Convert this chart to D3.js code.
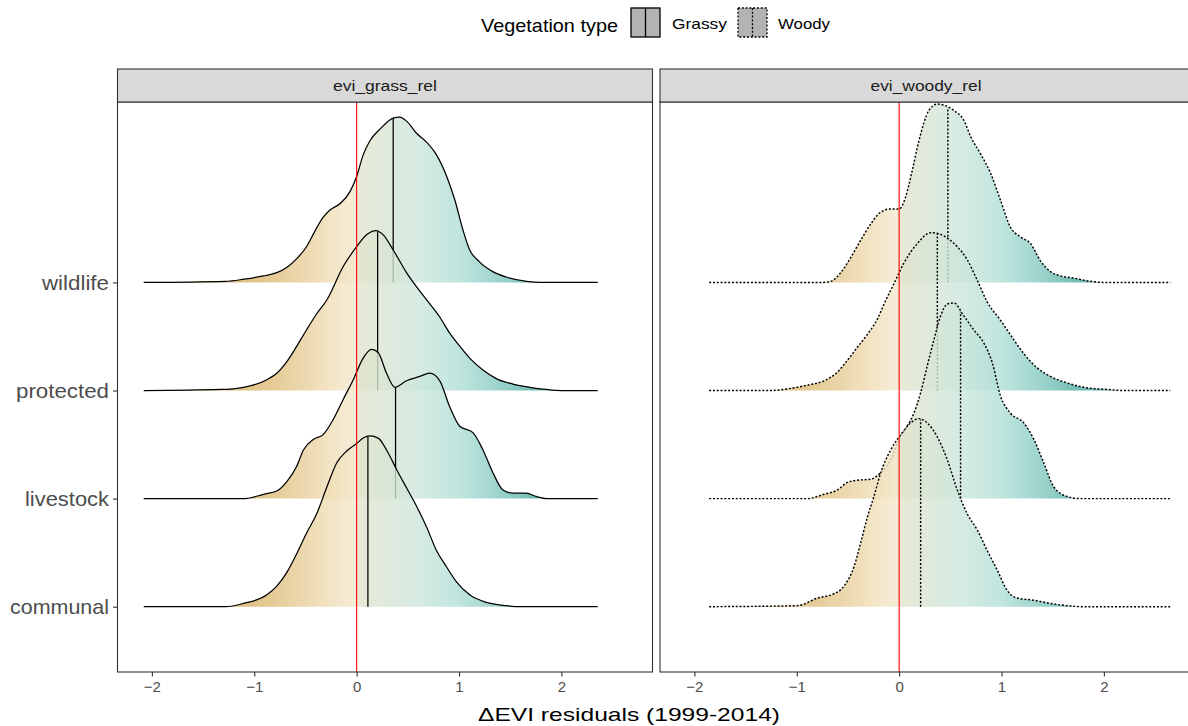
<!DOCTYPE html>
<html>
<head>
<meta charset="utf-8">
<script src="https://cdn.jsdelivr.net/npm/d3@7"></script>
<style>
  body { margin: 0; background: #fff; }
  text { font-family: "Liberation Sans", Arial, sans-serif; }
</style>
</head>
<body>
<div class="canvas"></div>
<script>
// ---- data ----
const categories = ["communal", "livestock", "protected", "wildlife"];
const panels = ["evi_grass_rel", "evi_woody_rel"];
const vegTypes = ["Grassy", "Woody"];
const xTicks = [-2, -1, 0, 1, 2];

// ridge heights [x, height] in units of one category step
const grassCommunal = [[-2.08,0],[-1.28,0],[-1.105,0.03],[-0.877,0.11],[-0.78,0.19],[-0.68,0.32],[-0.585,0.49],[-0.49,0.68],[-0.39,0.86],[-0.29,1.11],[-0.195,1.33],[-0.097,1.44],[0,1.51],[0.064,1.56],[0.13,1.58],[0.211,1.56],[0.292,1.45],[0.39,1.27],[0.487,1.10],[0.585,0.93],[0.682,0.74],[0.78,0.52],[0.877,0.37],[0.975,0.23],[1.104,0.11],[1.267,0.04],[1.462,0.01],[1.6,0],[2.355,0]];
const grassLivestock = [[-2.08,0],[-1.09,0],[-0.91,0.04],[-0.78,0.07],[-0.68,0.16],[-0.585,0.30],[-0.52,0.45],[-0.42,0.55],[-0.33,0.59],[-0.23,0.73],[-0.13,0.92],[-0.033,1.10],[0.064,1.30],[0.146,1.38],[0.211,1.35],[0.292,1.16],[0.373,1.03],[0.487,1.09],[0.617,1.13],[0.714,1.16],[0.812,1.09],[0.909,0.85],[1.007,0.67],[1.136,0.61],[1.234,0.45],[1.331,0.24],[1.429,0.08],[1.526,0.05],[1.657,0.05],[1.754,0.02],[1.867,0],[2.355,0]];
const grassProtected = [[-2.08,0],[-1.33,0.01],[-1.105,0.03],[-0.877,0.10],[-0.78,0.16],[-0.68,0.27],[-0.585,0.41],[-0.49,0.56],[-0.39,0.71],[-0.29,0.84],[-0.13,1.15],[0,1.33],[0.097,1.44],[0.188,1.48],[0.26,1.44],[0.357,1.30],[0.487,1.09],[0.682,0.84],[0.812,0.68],[0.909,0.53],[1.007,0.41],[1.104,0.30],[1.234,0.19],[1.364,0.11],[1.526,0.06],[1.689,0.03],[1.852,0.01],[2.0,0],[2.355,0]];
const grassWildlife = [[-2.08,0],[-1.28,0.01],[-1.1,0.03],[-0.91,0.06],[-0.78,0.09],[-0.68,0.14],[-0.585,0.22],[-0.49,0.33],[-0.41,0.47],[-0.33,0.60],[-0.26,0.67],[-0.16,0.73],[-0.065,0.84],[0,0.98],[0.064,1.18],[0.13,1.31],[0.23,1.42],[0.357,1.52],[0.42,1.53],[0.49,1.49],[0.585,1.38],[0.68,1.30],[0.78,1.18],[0.88,0.98],[0.96,0.76],[1.04,0.48],[1.10,0.31],[1.20,0.19],[1.33,0.10],[1.46,0.05],[1.66,0.01],[1.8,0],[2.355,0]];

const woodyCommunal = [[-1.856,0],[-0.993,0.01],[-0.798,0.08],[-0.636,0.12],[-0.539,0.19],[-0.441,0.37],[-0.376,0.59],[-0.31,0.83],[-0.246,1.02],[-0.18,1.24],[-0.083,1.45],[0.015,1.59],[0.112,1.70],[0.193,1.74],[0.275,1.70],[0.373,1.57],[0.47,1.36],[0.568,1.08],[0.665,0.86],[0.763,0.71],[0.86,0.52],[0.958,0.34],[1.056,0.15],[1.153,0.08],[1.315,0.06],[1.478,0.03],[1.641,0.01],[1.8,0],[2.649,0]];
const woodyLivestock = [[-1.856,0],[-0.896,0],[-0.734,0.04],[-0.603,0.08],[-0.505,0.15],[-0.408,0.17],[-0.278,0.18],[-0.18,0.24],[-0.083,0.36],[0,0.55],[0.08,0.67],[0.144,0.79],[0.21,0.98],[0.275,1.23],[0.34,1.47],[0.405,1.69],[0.47,1.80],[0.535,1.81],[0.632,1.69],[0.73,1.56],[0.827,1.44],[0.909,1.26],[0.99,0.95],[1.088,0.79],[1.218,0.70],[1.315,0.55],[1.413,0.33],[1.51,0.11],[1.641,0.02],[1.77,0],[2.649,0]];
const woodyProtected = [[-1.856,0],[-1.25,0],[-1.06,0.02],[-0.896,0.05],[-0.734,0.09],[-0.603,0.17],[-0.505,0.28],[-0.408,0.40],[-0.31,0.52],[-0.213,0.66],[-0.148,0.80],[-0.05,0.99],[0.047,1.18],[0.178,1.36],[0.307,1.46],[0.388,1.45],[0.47,1.41],[0.568,1.33],[0.665,1.21],[0.763,1.02],[0.86,0.82],[0.99,0.65],[1.12,0.47],[1.218,0.34],[1.348,0.21],[1.478,0.13],[1.641,0.07],[1.803,0.03],[2.031,0.01],[2.2,0],[2.649,0]];
const woodyWildlife = [[-1.856,0],[-0.75,0],[-0.668,0.01],[-0.571,0.09],[-0.473,0.23],[-0.376,0.39],[-0.278,0.54],[-0.18,0.65],[-0.083,0.68],[0,0.68],[0.063,0.79],[0.129,1.04],[0.193,1.31],[0.29,1.59],[0.373,1.65],[0.437,1.64],[0.535,1.59],[0.632,1.50],[0.698,1.35],[0.795,1.19],[0.893,1.01],[0.99,0.76],[1.088,0.51],[1.185,0.42],[1.283,0.36],[1.38,0.20],[1.478,0.10],[1.576,0.06],[1.705,0.04],[1.868,0.01],[2.0,0],[2.649,0]];

// medians (quantile lines), in category order
const grassMedians = [0.11, 0.38, 0.205, 0.357];
const woodyMedians = [0.21, 0.60, 0.373, 0.476];

const ridges = [
  [grassCommunal, grassLivestock, grassProtected, grassWildlife],
  [woodyCommunal, woodyLivestock, woodyProtected, woodyWildlife]
];
const medians = [grassMedians, woodyMedians];

// ---- layout ----
const W = 1188, H = 726;
const panelX = [[117.5, 652.5], [660, 1195]];
const plotTop = 102, plotBottom = 672, stripTop = 69;
const xDomain = [-2.336, 2.89];
const fillAlpha = 0.8;
// colour ramp along x (as seen on white)
const fillStops = [[-2.0,"#c99a45"],[-1.3,"#dcbb7c"],[-0.85,"#e4c994"],[-0.26,"#f3e4c4"],[-0.03,"#f5ecd6"],[0.03,"#e7e9d6"],[0.6,"#d6ebe3"],[1.0,"#c0e5df"],[1.4,"#9cd3cc"],[1.7,"#76bfb6"],[2.2,"#5db0a6"]];
// rendered text widths in the reference
const stripWidths = [104, 111];
const stripCentres = [385, 926];
const yLabelWidths = [99, 84, 93, 67];

const svg = d3.select(".canvas").append("svg")
  .attr("width", W).attr("height", H)
  .style("display", "block");
svg.append("rect").attr("width", W).attr("height", H).attr("fill", "#fff");
const defs = svg.append("defs");

const y = d3.scaleLinear().domain([0.396, 5.669]).range([plotBottom, plotTop]);

// undo white compositing so that fill-opacity gives the seen colour
function baseColour(c) {
  const o = d3.rgb(c);
  const f = v => Math.max(0, Math.round(255 - (255 - v) / fillAlpha));
  return d3.rgb(f(o.r), f(o.g), f(o.b)).formatHex();
}

function heightAt(pts, v) {
  for (let i = 1; i < pts.length; i++) {
    if (pts[i][0] >= v) {
      const t = (v - pts[i-1][0]) / (pts[i][0] - pts[i-1][0]);
      return pts[i-1][1] + t * (pts[i][1] - pts[i-1][1]);
    }
  }
  return 0;
}

panels.forEach((name, p) => {
  const x = d3.scaleLinear().domain(xDomain).range(panelX[p]);
  const g = svg.append("g");

  // gradient
  const grad = defs.append("linearGradient")
    .attr("id", "grad" + p)
    .attr("gradientUnits", "userSpaceOnUse")
    .attr("x1", x(xDomain[0])).attr("x2", x(xDomain[1]))
    .attr("y1", 0).attr("y2", 0);
  fillStops.forEach(s => {
    grad.append("stop")
      .attr("offset", (s[0] - xDomain[0]) / (xDomain[1] - xDomain[0]))
      .attr("stop-color", baseColour(s[1]));
  });

  defs.append("clipPath").attr("id", "clip" + p)
    .append("rect")
    .attr("x", panelX[p][0]).attr("y", plotTop)
    .attr("width", panelX[p][1] - panelX[p][0]).attr("height", plotBottom - plotTop);

  const inner = g.append("g").attr("clip-path", "url(#clip" + p + ")");
  const dash = p === 1 ? "2,1.8" : null;
  const lw = p === 1 ? 1.45 : 1.25;

  // ridges: top row first so lower rows sit on top
  for (let c = categories.length - 1; c >= 0; c--) {
    const pts = ridges[p][c];
    const base = c + 1;
    const area = d3.area()
      .x(d => x(d[0]))
      .y0(y(base))
      .y1(d => y(base + d[1]))
      .curve(d3.curveMonotoneX);
    const line = d3.line()
      .x(d => x(d[0]))
      .y(d => y(base + d[1]))
      .curve(d3.curveMonotoneX);

    inner.append("path")
      .attr("d", area(pts))
      .attr("fill", "url(#grad" + p + ")")
      .attr("fill-opacity", fillAlpha);
    inner.append("path")
      .attr("d", line(pts))
      .attr("fill", "none")
      .attr("stroke", "#000")
      .attr("stroke-width", lw)
      .attr("stroke-dasharray", dash);

    const m = medians[p][c];
    inner.append("line")
      .attr("x1", x(m)).attr("x2", x(m))
      .attr("y1", y(base)).attr("y2", y(base + heightAt(pts, m)))
      .attr("stroke", "#000")
      .attr("stroke-width", lw)
      .attr("stroke-dasharray", dash);
  }

  // zero line
  inner.append("line")
    .attr("x1", x(0)).attr("x2", x(0))
    .attr("y1", plotTop).attr("y2", plotBottom)
    .attr("stroke", "#ff0000")
    .attr("stroke-width", 1.1);

  // panel border
  g.append("rect")
    .attr("x", panelX[p][0]).attr("y", plotTop)
    .attr("width", panelX[p][1] - panelX[p][0]).attr("height", plotBottom - plotTop)
    .attr("fill", "none").attr("stroke", "#333").attr("stroke-width", 1.1);

  // strip
  g.append("rect")
    .attr("x", panelX[p][0]).attr("y", stripTop)
    .attr("width", panelX[p][1] - panelX[p][0]).attr("height", plotTop - stripTop)
    .attr("fill", "#d9d9d9").attr("stroke", "#333").attr("stroke-width", 1.1);
  g.append("text")
    .attr("x", stripCentres[p])
    .attr("y", (stripTop + plotTop) / 2 + 5)
    .attr("text-anchor", "middle")
    .attr("font-size", "14.5px")
    .attr("fill", "#1a1a1a")
    .attr("textLength", stripWidths[p])
    .attr("lengthAdjust", "spacingAndGlyphs")
    .text(name);

  // x axis
  const xAxis = d3.axisBottom(x).tickValues(xTicks).tickSize(4.5).tickPadding(5)
    .tickFormat(d3.format("d"));
  const ax = g.append("g").attr("transform", `translate(0,${plotBottom})`).call(xAxis);
  ax.select(".domain").remove();
  ax.selectAll(".tick line").attr("stroke", "#333").attr("stroke-width", 1.1);
  ax.selectAll(".tick text").attr("fill", "#4d4d4d").attr("font-size", "15px")
    .attr("font-family", "Liberation Sans, Arial, sans-serif");
});

// y axis (left panel only)
const yAxis = d3.axisLeft(y).tickValues([1, 2, 3, 4]).tickSize(4.5).tickPadding(4)
  .tickFormat(d => categories[d - 1]);
const ay = svg.append("g").attr("transform", `translate(${panelX[0][0]},0)`).call(yAxis);
ay.select(".domain").remove();
ay.selectAll(".tick line").attr("stroke", "#333").attr("stroke-width", 1.1);
ay.selectAll(".tick text").attr("fill", "#4d4d4d").attr("font-size", "21px")
  .attr("font-family", "Liberation Sans, Arial, sans-serif")
  .attr("textLength", d => yLabelWidths[d - 1])
  .attr("lengthAdjust", "spacingAndGlyphs");

// x title
svg.append("text")
  .attr("x", 629).attr("y", 721)
  .attr("text-anchor", "middle")
  .attr("font-size", "19px")
  .attr("fill", "#000")
  .attr("textLength", 302)
  .attr("lengthAdjust", "spacingAndGlyphs")
  .text("\u0394EVI residuals (1999-2014)");

// legend
const legend = svg.append("g");
legend.append("text")
  .attr("x", 481).attr("y", 32)
  .attr("font-size", "19px")
  .attr("fill", "#000")
  .attr("textLength", 137)
  .attr("lengthAdjust", "spacingAndGlyphs")
  .text("Vegetation type");
const keyX = [631, 738];
const labelX = [672, 778];
const labelW = [55, 52];
vegTypes.forEach((t, i) => {
  const dash = i === 1 ? "2,1.8" : null;
  legend.append("rect")
    .attr("x", keyX[i]).attr("y", 8).attr("width", 29).attr("height", 29)
    .attr("fill", "#b3b3b3").attr("stroke", "#000").attr("stroke-width", 1.3)
    .attr("stroke-dasharray", dash);
  legend.append("line")
    .attr("x1", keyX[i] + 14.5).attr("x2", keyX[i] + 14.5)
    .attr("y1", 8).attr("y2", 37)
    .attr("stroke", "#000").attr("stroke-width", 1.3)
    .attr("stroke-dasharray", dash);
  legend.append("text")
    .attr("x", labelX[i]).attr("y", 29)
    .attr("font-size", "15px")
    .attr("fill", "#000")
    .attr("textLength", labelW[i])
    .attr("lengthAdjust", "spacingAndGlyphs")
    .text(t);
});
</script>
</body>
</html>
